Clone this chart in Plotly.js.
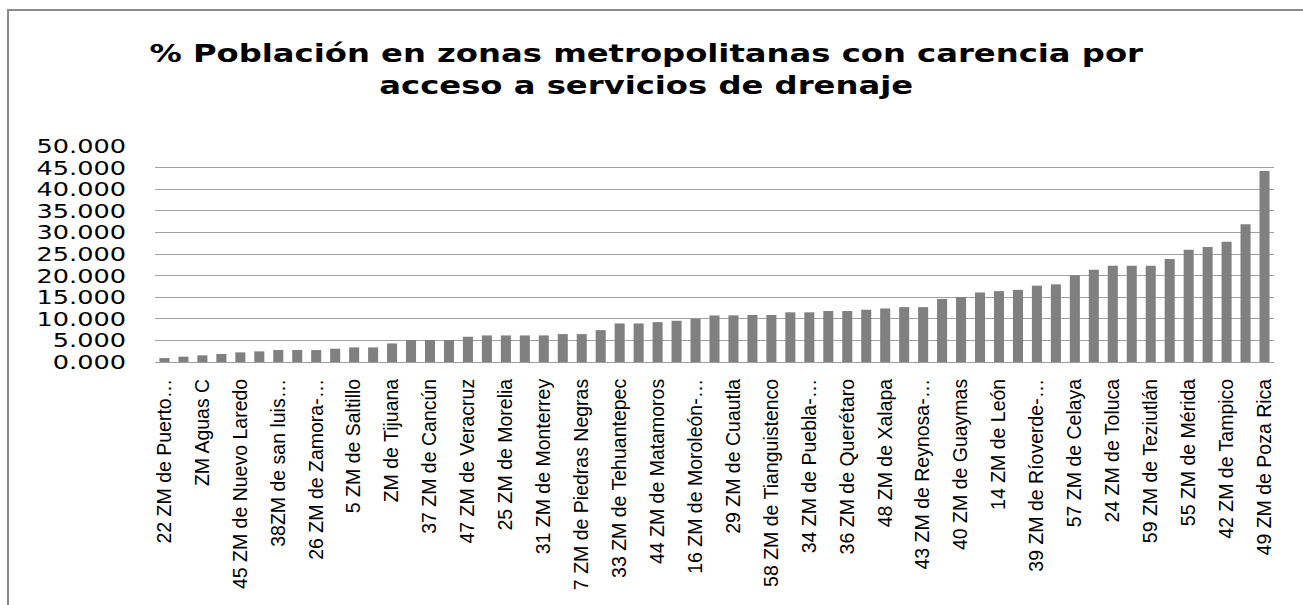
<!DOCTYPE html>
<html>
<head>
<meta charset="utf-8">
<script src="https://cdn.plot.ly/plotly-3.0.1.min.js"></script>
<style>
  html, body { margin: 0; padding: 0; background: #ffffff; }
  #wrap { position: relative; width: 1303px; height: 605px; overflow: hidden; }
  #chart { width: 1303px; height: 605px; }
  #frame { position: absolute; left: 7px; top: 9px; width: 1400px; height: 700px;
           border: 2px solid #8a8a8a; pointer-events: none; box-sizing: border-box; }
</style>
</head>
<body>
<div id="wrap">
  <div id="chart"></div>
  <div id="frame"></div>
</div>
<script>
// Values (% population), one per metropolitan zone, sorted ascending as in the chart
const values = [
  0.92, 1.23, 1.54, 1.85, 2.23, 2.46, 2.77, 2.77, 2.77, 3.08,
  3.38, 3.38, 4.30, 5.08, 5.08, 5.08, 5.85, 6.15, 6.15, 6.15,
  6.15, 6.46, 6.46, 7.38, 8.92, 8.92, 9.23, 9.54, 10.00, 10.77,
  10.80, 10.88, 10.88, 11.50, 11.50, 11.80, 11.80, 12.10, 12.40, 12.70,
  12.70, 14.60, 15.05, 16.10, 16.40, 16.70, 17.67, 17.98, 20.06, 21.37,
  22.30, 22.30, 22.30, 23.84, 26.00, 26.60, 27.86, 31.87, 44.20
];

// Category positions (one per bar)
const categories = values.map((v, i) => i);

// Tick labels shown on the axis (every second category)
const tickLabels = [
  "22 ZM de Puerto…", "ZM Aguas C", "45 ZM de Nuevo Laredo", "38ZM de san luis…",
  "26 ZM de Zamora-…", "5 ZM de Saltillo", "ZM de Tijuana", "37 ZM de Cancún",
  "47 ZM de Veracruz", "25 ZM de Morelia", "31 ZM de Monterrey", "7 ZM de Piedras Negras",
  "33 ZM de Tehuantepec", "44 ZM de Matamoros", "16 ZM de Moroleón-…", "29 ZM de Cuautla",
  "58 ZM de Tianguistenco", "34 ZM de Puebla-…", "36 ZM de Querétaro", "48 ZM de Xalapa",
  "43 ZM de Reynosa-…", "40 ZM de Guaymas", "14 ZM de León", "39 ZM de Ríoverde-…",
  "57 ZM de Celaya", "24 ZM de Toluca", "59 ZM de Teziutlán", "55 ZM de Mérida",
  "42 ZM de Tampico", "49 ZM de Poza Rica"
];
const tickPositions = tickLabels.map((t, i) => i * 2);

const yTicks = [0, 5, 10, 15, 20, 25, 30, 35, 40, 45, 50];

const titleText = "% Población en zonas metropolitanas con carencia por<br>acceso a servicios de drenaje";

const trace = {
  type: "bar",
  x: categories,
  y: values,
  marker: { color: "#808080", line: { width: 0 } },
  hoverinfo: "skip"
};

const layout = {
  width: 1303,
  height: 605,
  margin: { l: 155, r: 29, t: 146, b: 243, pad: 0 },
  paper_bgcolor: "#ffffff",
  plot_bgcolor: "#ffffff",
  showlegend: false,
  bargap: 0.47,
  font: { family: "Liberation Sans, Arial, sans-serif", color: "#000000" },
  title: {
    text: titleText,
    x: 0.496,
    xref: "container",
    xanchor: "center",
    y: 1 - 62 / 605,
    yref: "container",
    yanchor: "top",
    font: { family: "DejaVu Sans, sans-serif", size: 25, weight: 700, color: "#000000" }
  },
  xaxis: {
    type: "linear",
    range: [-0.5, values.length - 0.5],
    tickmode: "array",
    tickvals: tickPositions,
    ticktext: tickLabels,
    tickangle: -90,
    tickfont: { family: "Liberation Sans, Arial, sans-serif", size: 19.5, color: "#000000" },
    ticks: "",
    ticklabelstandoff: 8,
    showgrid: false,
    zeroline: false,
    showline: true,
    linecolor: "#9e9e9e",
    linewidth: 1,
    automargin: false,
    fixedrange: true
  },
  yaxis: {
    range: [0, 50],
    tickmode: "array",
    tickvals: yTicks,
    tickformat: ".3f",
    tickfont: { family: "DejaVu Sans, sans-serif", size: 20, color: "#000000" },
    ticks: "",
    ticklabelstandoff: 28,
    showgrid: true,
    gridcolor: "#a0a0a0",
    gridwidth: 1,
    zeroline: false,
    showline: false,
    automargin: false,
    fixedrange: true
  }
};

Plotly.newPlot("chart", [trace], layout, { staticPlot: true, displayModeBar: false }).then(function (gd) {
  // The reference's horizontal text is stretched horizontally; mimic it.
  const ylayer = gd.querySelector(".yaxislayer-above");
  if (ylayer) {
    ylayer.style.transformBox = "fill-box";
    ylayer.style.transformOrigin = "right center";
    ylayer.style.transform = "scaleX(1.28)";
  }
  const ttl = gd.querySelector(".g-gtitle");
  if (ttl) {
    ttl.style.transformBox = "fill-box";
    ttl.style.transformOrigin = "center center";
    ttl.style.transform = "scaleX(1.29)";
  }
});
</script>
</body>
</html>
